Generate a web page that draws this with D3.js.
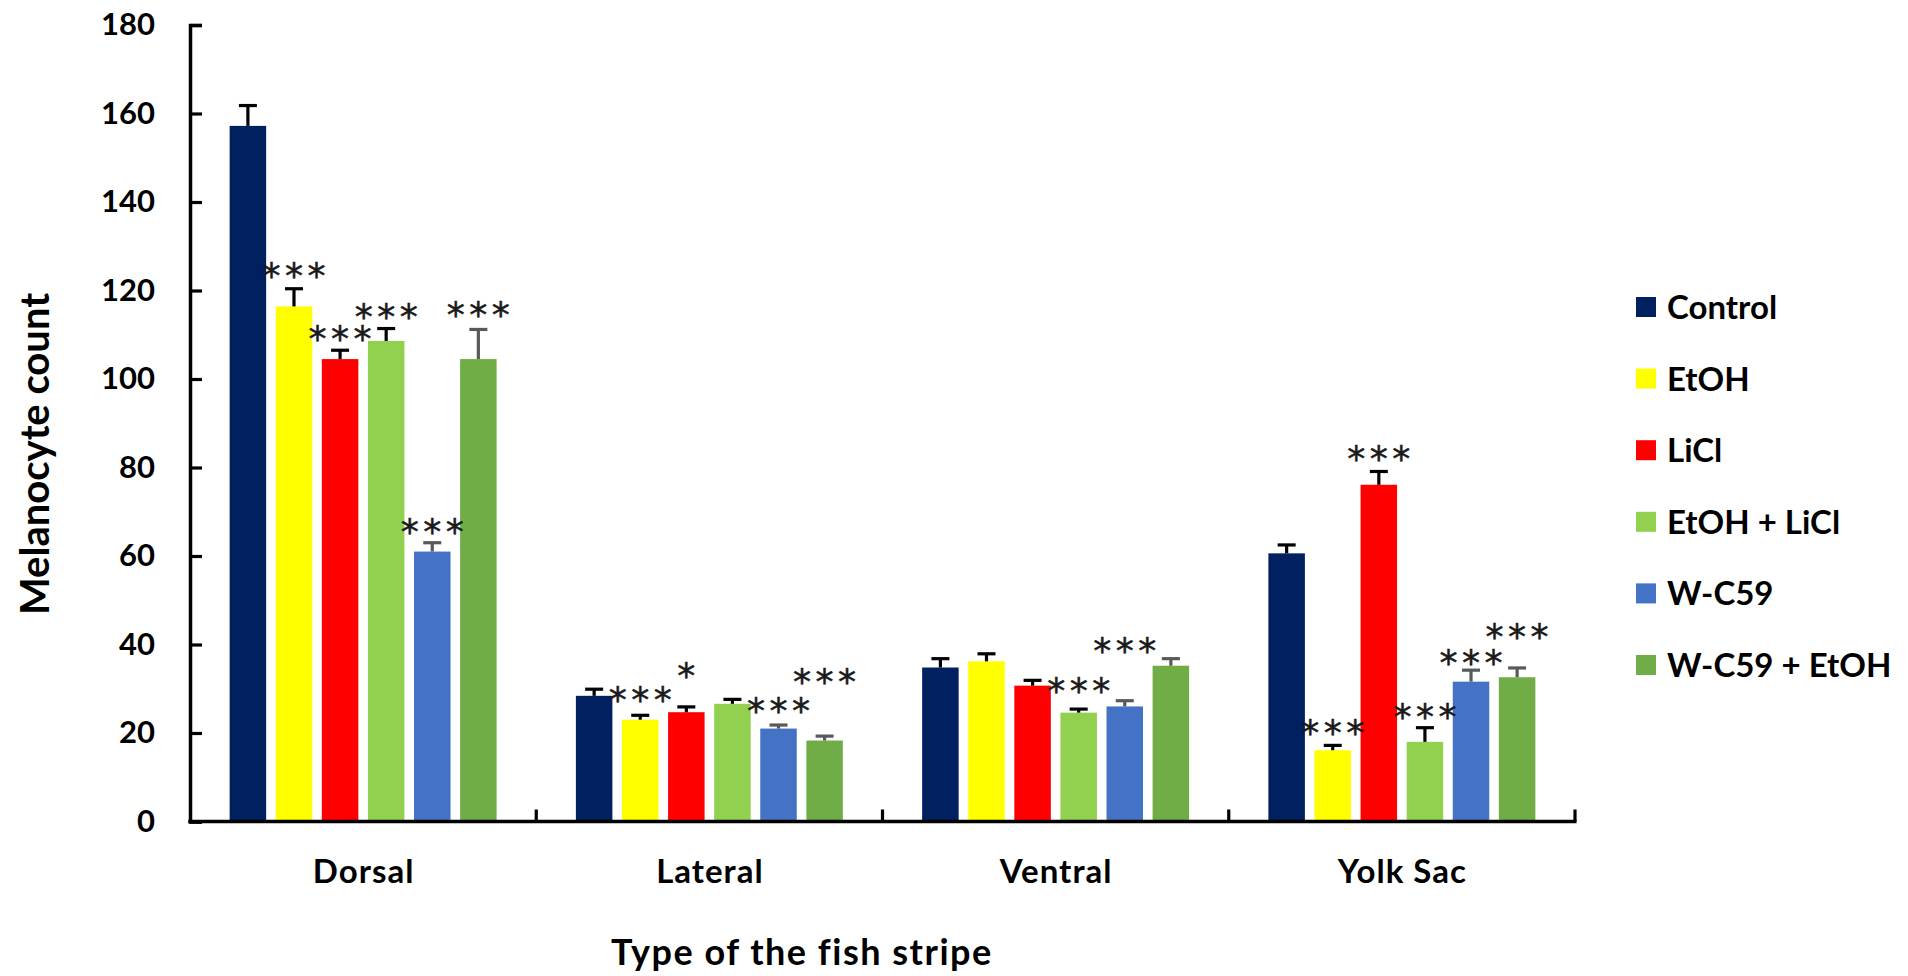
<!DOCTYPE html>
<html>
<head>
<meta charset="utf-8">
<script src="https://cdn.jsdelivr.net/npm/d3@7"></script>
<style>
  html, body { margin: 0; padding: 0; background: #fff; }
  svg { display: block; }
  text { font-family: Lato, "Open Sans", sans-serif; font-weight: 700; fill: #000; }
  .sig { font-family: "DejaVu Sans", sans-serif; font-weight: 400; fill: #1a1a1a; stroke: #1a1a1a; stroke-width: 0.5; }
</style>
</head>
<body>
<svg id="chart" width="1908" height="976"></svg>
<script>
// Melanocyte counts per stripe type and treatment (mean and error)
const categories = ["Dorsal", "Lateral", "Ventral", "Yolk Sac"];
const series = ["Control", "EtOH", "LiCl", "EtOH + LiCl", "W-C59", "W-C59 + EtOH"];

const controlMean   = [157.2, 28.4, 34.8, 60.6];
const etohMean      = [116.4, 23.0, 36.2, 16.1];
const liclMean      = [104.5, 24.7, 30.7, 76.1];
const etohLiclMean  = [108.6, 26.6, 24.6, 18.0];
const wc59Mean      = [61.0, 21.0, 26.0, 31.6];
const wc59EtohMean  = [104.5, 18.3, 35.2, 32.6];

const controlErr    = [4.6, 1.5, 2.0, 1.9];
const etohErr       = [4.0, 1.0, 1.7, 1.1];
const liclErr       = [2.0, 1.2, 1.2, 3.0];
const etohLiclErr   = [2.8, 1.0, 0.8, 3.2];
const wc59Err       = [2.0, 0.8, 1.3, 2.6];
const wc59EtohErr   = [6.7, 1.0, 1.6, 2.1];

// significance markers versus control
const controlSig    = ["", "", "", ""];
const etohSig       = ["***", "***", "", "***"];
const liclSig       = ["***", "*", "", "***"];
const etohLiclSig   = ["***", "", "***", "***"];
const wc59Sig       = ["***", "***", "***", "***"];
const wc59EtohSig   = ["***", "***", "", "***"];

const yTicks = [0, 20, 40, 60, 80, 100, 120, 140, 160, 180];
const yTitle = "Melanocyte count";
const xTitle = "Type of the fish stripe";

const means = [controlMean, etohMean, liclMean, etohLiclMean, wc59Mean, wc59EtohMean];
const errs  = [controlErr, etohErr, liclErr, etohLiclErr, wc59Err, wc59EtohErr];
const sigs  = [controlSig, etohSig, liclSig, etohLiclSig, wc59Sig, wc59EtohSig];

// ---- appearance ----
const colors = ["#002060", "#FFFF00", "#FF0000", "#92D050", "#4472C4", "#70AD47"];
const errColors = ["#000000", "#000000", "#000000", "#000000", "#595959", "#595959"];
// vertical gap (px) between an error cap and the centre of its marker, per series x category
const sigLift = [
  [0, 0, 0, 0],
  [21, 24, 0, 21],
  [20, 39, 0, 21],
  [20, 0, 27, 19],
  [19, 23, 58, 16],
  [23, 63, 0, 39]
];

const svg = d3.select("#chart");
const plot = { left: 190, right: 1575, top: 25, bottom: 821.5 };

const x0 = d3.scaleBand().domain(categories).range([plot.left, plot.right]).padding(0);
const x1 = d3.scaleBand().domain(series).range([0, x0.bandwidth()])
  .paddingInner(0.208).paddingOuter(0.86);
const y = d3.scaleLinear().domain([0, 180]).range([plot.bottom, plot.top]);

const rows = [];
categories.forEach((c, ci) => {
  series.forEach((s, si) => {
    rows.push({ c, ci, s, si, v: means[si][ci], e: errs[si][ci], sig: sigs[si][ci] });
  });
});
const cx = d => x0(d.c) + x1(d.s) + x1.bandwidth() / 2;

// bars
svg.append("g").selectAll("rect").data(rows).join("rect")
  .attr("x", d => x0(d.c) + x1(d.s))
  .attr("y", d => y(d.v))
  .attr("width", x1.bandwidth())
  .attr("height", d => y(0) - y(d.v))
  .attr("fill", d => colors[d.si]);

// error bars (upper only)
const eg = svg.append("g").selectAll("g").data(rows).join("g")
  .attr("stroke", d => errColors[d.si]).attr("stroke-width", 3.2);
eg.append("line")
  .attr("x1", cx).attr("x2", cx)
  .attr("y1", d => y(d.v))
  .attr("y2", d => y(d.v + d.e));
eg.append("line")
  .attr("x1", d => cx(d) - 9).attr("x2", d => cx(d) + 9)
  .attr("y1", d => y(d.v + d.e))
  .attr("y2", d => y(d.v + d.e));

// significance asterisks
const sigSize = 36, sigSpacing = 4.5;
svg.append("g").selectAll("text").data(rows.filter(d => d.sig)).join("text")
  .attr("class", "sig")
  .attr("text-anchor", "middle")
  .attr("font-size", sigSize)
  .attr("letter-spacing", sigSpacing)
  .attr("x", d => cx(d) + sigSpacing / 2)
  .attr("y", d => y(d.v + d.e) - sigLift[d.si][d.ci] + 0.57 * sigSize)
  .text(d => d.sig);

// y axis with inward ticks
const yAxis = d3.axisLeft(y).tickValues(yTicks).tickSize(-12).tickPadding(35);
const ya = svg.append("g").attr("transform", `translate(${plot.left},0)`).call(yAxis);
ya.select(".domain").attr("stroke", "#000").attr("stroke-width", 3.5);
ya.selectAll(".tick line").attr("stroke", "#000").attr("stroke-width", 3.2);
ya.selectAll(".tick text").attr("font-size", 31).attr("font-family", null).attr("fill", "#000");

// x axis: category boundaries marked with short ticks
const xa = svg.append("g").attr("transform", `translate(0,${plot.bottom})`);
xa.append("line").attr("x1", plot.left - 1.75).attr("x2", plot.right + 1.5)
  .attr("stroke", "#000").attr("stroke-width", 3.5);
const bounds = categories.map(c => x0(c) + x0.bandwidth());
xa.selectAll("line.b").data(bounds).join("line").attr("class", "b")
  .attr("x1", d => d).attr("x2", d => d).attr("y1", 0).attr("y2", -12)
  .attr("stroke", "#000").attr("stroke-width", 3.2);
xa.selectAll("text").data(categories).join("text")
  .attr("x", d => x0(d) + x0.bandwidth() / 2 + 0.5)
  .attr("y", 61)
  .attr("text-anchor", "middle")
  .attr("font-size", 33)
  .attr("letter-spacing", 1)
  .text(d => d);

// axis titles
svg.append("text")
  .attr("transform", "translate(49,454) rotate(-90)")
  .attr("text-anchor", "middle")
  .attr("font-size", 40)
  .text(yTitle);
svg.append("text")
  .attr("x", 611).attr("y", 965)
  .attr("font-size", 36)
  .attr("letter-spacing", 1.5)
  .text(xTitle);

// legend
const lg = svg.append("g").attr("transform", "translate(1636,307)");
const li = lg.selectAll("g").data(series).join("g")
  .attr("transform", (d, i) => `translate(0,${i * 71.6})`);
li.append("rect").attr("x", 0).attr("y", -10).attr("width", 20).attr("height", 20)
  .attr("fill", (d, i) => colors[i]);
li.append("text").attr("x", 31).attr("y", 12).attr("font-size", 33).text(d => d);
</script>
</body>
</html>
